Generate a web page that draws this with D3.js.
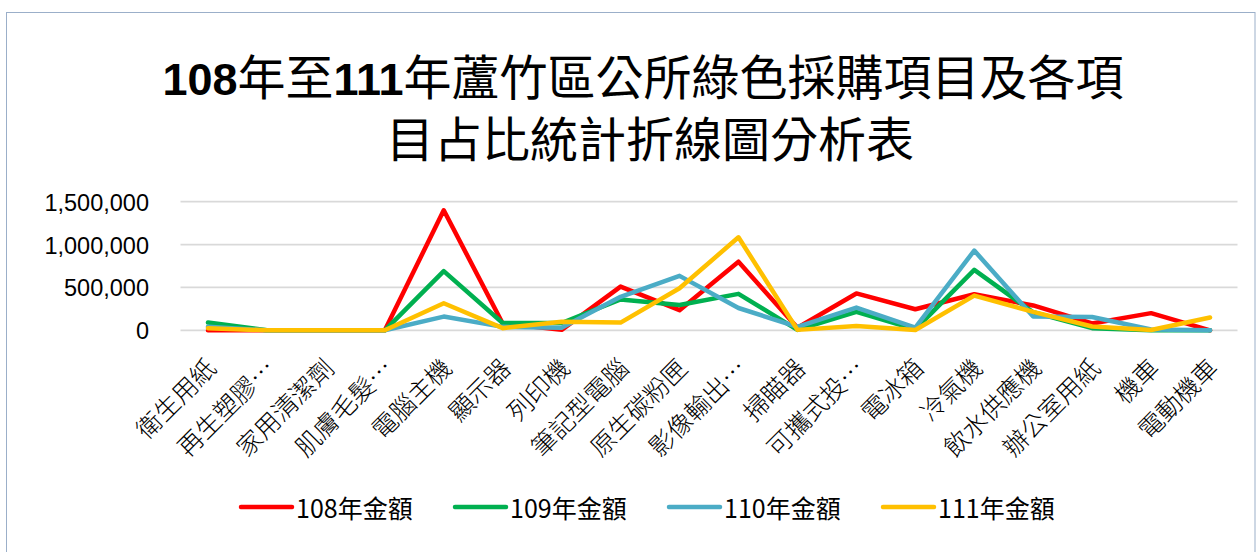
<!DOCTYPE html>
<html>
<head>
<meta charset="utf-8">
<script src="https://cdn.jsdelivr.net/npm/d3@7"></script>
<style>
  html, body { margin: 0; padding: 0; background: #fff; }
  svg { display: block; }
</style>
</head>
<body>
<div id="chart"></div>
<script>
// categories and yearly amounts
const categories = ['衛生用紙', '再生塑膠…', '家用清潔劑', '肌膚毛髮…', '電腦主機', '顯示器', '列印機', '筆記型電腦', '原生碳粉匣',
    '影像輸出…', '掃瞄器', '可攜式投…', '電冰箱', '冷氣機', '飲水供應機', '辦公室用紙', '機車', '電動機車'];
const seriesNames = ['108年金額', '109年金額', '110年金額', '111年金額'];
const amount108 = [0, 0, 0, 0, 1400000, 80000, 5000, 510000, 235000, 800000, 30000, 430000, 245000, 420000, 290000, 80000, 200000, 0];
const amount109 = [90000, 0, 0, 0, 690000, 85000, 85000, 360000, 295000, 425000, 5000, 215000, 10000, 705000, 210000, 25000, 0, 0];
const amount110 = [40000, 0, 0, 0, 160000, 40000, 30000, 390000, 635000, 260000, 40000, 265000, 30000, 930000, 160000, 155000, 10000, 0];
const amount111 = [25000, 0, 0, 0, 315000, 25000, 100000, 90000, 490000, 1085000, 5000, 50000, 3000, 405000, 215000, 45000, 3000, 150000];
const yTicks = [0, 500000, 1000000, 1500000];

const colors = ['#ff0000', '#00b050', '#4bacc6', '#ffc000'];
const cjk = "'Noto Sans CJK TC', 'Noto Sans CJK SC', sans-serif";

const width = 1260;
const height = 552;
const plot = { left: 178.5, right: 1239.5, top: 201.7, bottom: 330.3 };

const svg = d3.select('#chart')
    .append('svg')
    .attr('width', width)
    .attr('height', height);

// chart area border
svg.append('rect')
    .attr('x', 6.5)
    .attr('y', 12.5)
    .attr('width', 1248.5)
    .attr('height', 600)
    .attr('fill', '#fff')
    .attr('stroke', '#9bafc9')
    .attr('stroke-width', 1);

// title, two lines, digits in bold
const titleLines = [
    [['108', true], ['年至', false], ['111', true], ['年蘆竹區公所綠色採購項目及各項', false]],
    [['目占比統計折線圖分析表', false]]
];
const titleCenters = [643, 650];
const titleBaselines = [95, 157];

titleLines.forEach((parts, i) => {
    const t = svg.append('text')
        .attr('x', titleCenters[i])
        .attr('y', titleBaselines[i])
        .attr('text-anchor', 'middle')
        .attr('fill', '#000');
    parts.forEach(([str, bold]) => {
        t.append('tspan')
            .text(str)
            .style('font-family', bold ? "'Liberation Sans', Arial, sans-serif" : cjk)
            .style('font-weight', bold ? 700 : 400)
            .style('font-size', bold ? '45px' : '48px');
    });
});

const x = d3.scaleBand()
    .domain(categories)
    .range([plot.left, plot.right])
    .padding(0);
const cx = c => x(c) + x.bandwidth() / 2;

const y = d3.scaleLinear()
    .domain([0, 1500000])
    .range([plot.bottom, plot.top]);

// gridlines
svg.append('g')
    .selectAll('line')
    .data(yTicks)
    .enter()
    .append('line')
    .attr('x1', plot.left + 2)
    .attr('x2', plot.right - 2)
    .attr('y1', d => y(d))
    .attr('y2', d => y(d))
    .attr('stroke', '#d9d9d9')
    .attr('stroke-width', 1.75);

// y axis labels only
const yAxis = svg.append('g')
    .attr('transform', 'translate(149,0)')
    .call(d3.axisLeft(y).tickValues(yTicks).tickFormat(d3.format(',')).tickSize(0).tickPadding(0));
yAxis.select('.domain').remove();
yAxis.selectAll('text')
    .style('font-family', "'Liberation Sans', Arial, sans-serif")
    .style('font-size', '23.5px')
    .attr('fill', '#000')
    .attr('dy', '0.36em');

// category labels, rotated
svg.append('g')
    .selectAll('text')
    .data(categories)
    .enter()
    .append('text')
    .attr('transform', d => `translate(${cx(d) + 2},${362}) rotate(-45)`)
    .attr('text-anchor', 'end')
    .attr('dominant-baseline', 'central')
    .style('font-family', cjk)
    .style('font-weight', 300)
    .style('font-size', '25px')
    .attr('fill', '#000')
    .text(d => d);

// lines
const series = [amount108, amount109, amount110, amount111];
const line = d3.line()
    .x((d, i) => cx(categories[i]))
    .y(d => y(d));

svg.append('g')
    .selectAll('path')
    .data(series)
    .enter()
    .append('path')
    .attr('d', d => line(d))
    .attr('fill', 'none')
    .attr('stroke', (d, i) => colors[i])
    .attr('stroke-width', 4.5)
    .attr('stroke-linejoin', 'round')
    .attr('stroke-linecap', 'round');

// legend
const legendX = [241, 455, 669, 883];
const legend = svg.append('g')
    .selectAll('g')
    .data(seriesNames)
    .enter()
    .append('g')
    .attr('transform', (d, i) => `translate(${legendX[i]},507)`);

legend.append('line')
    .attr('x1', 0)
    .attr('x2', 51)
    .attr('stroke', (d, i) => colors[i])
    .attr('stroke-width', 4.5)
    .attr('stroke-linecap', 'round');

legend.append('text')
    .attr('x', 55)
    .attr('dominant-baseline', 'central')
    .style('font-family', cjk)
    .style('font-size', '25px')
    .attr('fill', '#000')
    .text(d => d);
</script>
</body>
</html>
